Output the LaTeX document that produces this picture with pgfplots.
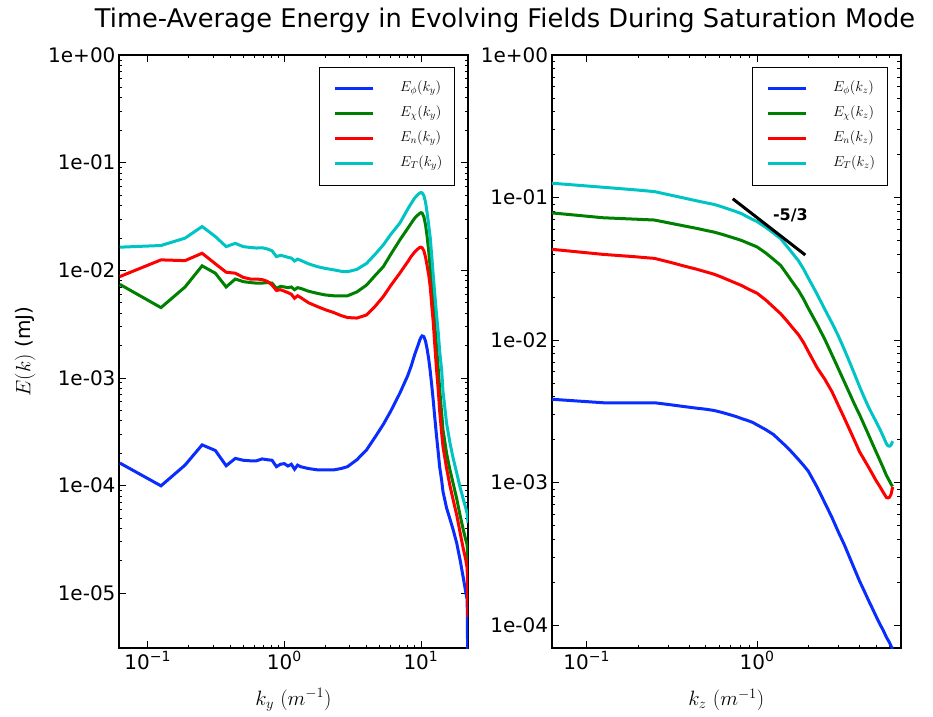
\documentclass[border=0pt]{standalone}
\usepackage{fontspec}
\setmainfont{DejaVu Sans}
\usepackage{pgfplots}
\usepackage{pgfplotstable}
\pgfplotsset{compat=1.18}

\definecolor{mblue}{RGB}{10,45,255}
\definecolor{mgreen}{RGB}{0,128,0}
\definecolor{mred}{RGB}{255,0,0}
\definecolor{mcyan}{RGB}{0,196,196}

\pgfplotstableread{
k phi chi n T
0.0625 1.62e-4 7.4e-3 8.75e-3 0.0164
0.125 9.95e-5 4.5e-3 0.0125 0.0170
0.1875 1.55e-4 7.0e-3 0.0123 0.0199
0.25 2.39e-4 0.011 0.0144 0.0255
0.3125 2.12e-4 9.4e-3 0.0115 0.0206
0.375 1.53e-4 7.0e-3 9.6e-3 0.0166
0.4375 1.79e-4 8.3e-3 9.4e-3 0.0178
0.5 1.72e-4 7.85e-3 8.6e-3 0.0166
0.5625 1.70e-4 7.7e-3 8.3e-3 0.0163
0.625 1.70e-4 7.6e-3 8.3e-3 0.0161
0.6875 1.77e-4 7.6e-3 8.2e-3 0.0162
0.75 1.74e-4 7.7e-3 7.9e-3 0.0158
0.8125 1.72e-4 7.6e-3 7.3e-3 0.0152
0.875 1.50e-4 6.8e-3 6.5e-3 0.0134
0.9375 1.58e-4 7.1e-3 6.6e-3 0.0138
1.0 1.60e-4 7.0e-3 6.4e-3 0.0135
1.0625 1.52e-4 6.9e-3 6.2e-3 0.0132
1.125 1.58e-4 7.0e-3 6.0e-3 0.0130
1.1875 1.42e-4 6.6e-3 5.5e-3 0.0122
1.25 1.55e-4 6.9e-3 5.8e-3 0.0127
1.3125 1.50e-4 6.8e-3 5.6e-3 0.0124
1.5 1.44e-4 6.4e-3 5.0e-3 0.0115
1.75 1.40e-4 6.1e-3 4.6e-3 0.0108
2.0 1.40e-4 5.9e-3 4.3e-3 0.0104
2.3 1.40e-4 5.8e-3 4.05e-3 0.0101
2.6 1.44e-4 5.8e-3 3.8e-3 0.0098
2.9 1.50e-4 5.8e-3 3.64e-3 0.0097
3.4 1.74e-4 6.3e-3 3.6e-3 0.0102
4.0 2.15e-4 7.3e-3 3.85e-3 0.0116
4.6 2.8e-4 8.9e-3 4.6e-3 0.0140
5.3 3.7e-4 0.0108 5.7e-3 0.0172
6.0 4.9e-4 0.0140 7.2e-3 0.0215
7.0 7.2e-4 0.0191 9.4e-3 0.0274
8.0 1.05e-3 0.0245 0.0120 0.0370
8.5 1.3e-3 0.0275 0.0135 0.0420
9.0 1.65e-3 0.0305 0.0148 0.0470
9.5 2.0e-3 0.0327 0.0158 0.0505
9.8 2.25e-3 0.0338 0.0163 0.0522
10.0 2.38e-3 0.0343 0.0164 0.0528
10.2 2.46e-3 0.0340 0.0162 0.0524
10.5 2.42e-3 0.0315 0.0152 0.0495
10.8 2.2e-3 0.0265 0.0133 0.0430
11.1 1.85e-3 0.0206 0.0110 0.0340
11.4 1.5e-3 0.0150 9.0e-3 0.0262
11.7 1.15e-3 0.0105 7.0e-3 0.0200
12.0 8.5e-4 7.2e-3 4.7e-3 0.0135
12.3 6.2e-4 4.9e-3 3.3e-3 9.0e-3
12.6 4.4e-4 3.2e-3 2.1e-3 6.2e-3
13.0 2.9e-4 1.95e-3 1.2e-3 3.9e-3
13.4 2.0e-4 1.19e-3 7.6e-4 2.6e-3
13.7 1.5e-4 8.0e-4 5.0e-4 1.8e-3
14.2 1.1e-4 4.6e-4 3.0e-4 1.15e-3
14.5 8.8e-5 3.3e-4 2.3e-4 7.5e-4
15.4 6.2e-5 2.0e-4 1.45e-4 3.8e-4
16.3 4.9e-5 1.4e-4 1.0e-4 2.5e-4
17.2 3.9e-5 1.05e-4 7.4e-5 1.8e-4
18.3 2.9e-5 7.5e-5 5.3e-5 1.3e-4
19.4 2.0e-5 5.2e-5 3.6e-5 9.5e-5
20.4 1.4e-5 3.9e-5 2.6e-5 7.5e-5
21.2 1.05e-5 3.2e-5 2.1e-5 6.3e-5
21.8 8.7e-6 2.8e-5 1.7e-5 5.5e-5
22.1 1e-6 1.6e-5 6e-6 4.5e-5
}\lefttab

\pgfplotstableread{
k phi chi n T
0.0625 3.84e-3 0.078 0.0433 0.126
0.125 3.63e-3 0.0721 0.0399 0.118
0.1875 3.63e-3 0.0706 0.0385 0.1135
0.25 3.63e-3 0.0695 0.0374 0.110
0.3125 3.51e-3 0.0659 0.035 0.1038
0.375 3.41e-3 0.0631 0.0330 0.099
0.4375 3.33e-3 0.0609 0.0315 0.095
0.5 3.27e-3 0.0588 0.0301 0.0919
0.5625 3.2e-3 0.0571 0.0289 0.0893
0.625 3.1e-3 0.0551 0.0275 0.0859
0.6875 3.0e-3 0.0532 0.0262 0.0826
0.75 2.91e-3 0.0515 0.0251 0.0798
0.8125 2.81e-3 0.0499 0.0241 0.0770
0.875 2.73e-3 0.0481 0.0230 0.0733
0.9375 2.65e-3 0.0465 0.0221 0.0703
1.0 2.54e-3 0.045 0.0213 0.0678
1.125 2.35e-3 0.0408 0.0191 0.0618
1.25 2.17e-3 0.0368 0.0170 0.0562
1.375 1.95e-3 0.0334 0.0153 0.0515
1.5 1.77e-3 0.0289 0.0136 0.0453
1.625 1.60e-3 0.0252 0.0121 0.0402
1.75 1.45e-3 0.0223 0.0109 0.036
1.875 1.32e-3 0.0194 9.6e-3 0.0315
2.0 1.2e-3 0.0167 8.3e-3 0.0272
2.25 9.3e-4 0.0129 6.4e-3 0.0210
2.5 7.2e-4 0.0101 5.3e-3 0.0164
2.75 5.7e-4 7.9e-3 4.35e-3 0.0132
3.0 4.5e-4 6.3e-3 3.48e-3 0.0107
3.25 3.67e-4 5.1e-3 2.84e-3 8.6e-3
3.5 2.97e-4 4.2e-3 2.34e-3 6.97e-3
3.75 2.44e-4 3.5e-3 1.95e-3 5.7e-3
4.0 2.03e-4 2.99e-3 1.64e-3 4.7e-3
4.25 1.74e-4 2.54e-3 1.45e-3 3.97e-3
4.5 1.50e-4 2.18e-3 1.29e-3 3.41e-3
4.75 1.31e-4 1.88e-3 1.15e-3 3.0e-3
5.0 1.15e-4 1.64e-3 1.03e-3 2.67e-3
5.25 1.02e-4 1.44e-3 9.4e-4 2.38e-3
5.5 9.2e-5 1.27e-3 8.55e-4 2.11e-3
5.75 8.2e-5 1.12e-3 7.85e-4 1.87e-3
5.875 7.85e-5 1.07e-3 7.8e-4 1.81e-3
6.0 7.5e-5 1.02e-3 7.9e-4 1.80e-3
6.125 7.1e-5 9.7e-4 8.3e-4 1.84e-3
6.25 6.8e-5 9.4e-4 9.3e-4 1.95e-3
}\righttab

\pgfplotsset{
  scale only axis, width=349pt, height=593pt,
  axis line style={line width=1.6pt},
  tick align=inside, major tick length=7pt, minor tick length=3.5pt,
  every tick/.style={black, line width=0.8pt},
  tick label style={font=\fontsize{20}{24}\selectfont},
  label style={font=\fontsize{20}{24}\selectfont},
  legend style={at={(1,1)}, anchor=north east, xshift=-13pt, yshift=-12pt,
    draw=black, line width=1.2pt, inner xsep=12pt, inner ysep=14pt, row sep=10.5pt,
    font=\fontsize{14}{16}\selectfont,
    nodes={inner sep=0pt, text height=10pt, text depth=4.5pt},
    cells={anchor=west}},
  legend image code/.code={\path (0pt,0pt); \draw[#1,line width=3pt] (2pt,0pt) -- (39.6pt,0pt);},
  every axis plot/.append style={line width=3pt},
}

\begin{document}
\begin{tikzpicture}
\path[use as bounding box] (0pt,0pt) rectangle (933pt,716pt);
\node[font=\fontsize{25.7}{30}\selectfont] at (505pt,696pt) {Time-Average Energy in Evolving Fields During Saturation Mode};

\begin{axis}[xmode=log, ymode=log, at={(119pt,68pt)}, anchor=south west,
  xmin=0.0616, xmax=22.1, ymin=3.1e-6, ymax=1,
  xtick={0.1,1,10},
  xticklabels={10\textsuperscript{−1},10\textsuperscript{0},10\textsuperscript{1}},
  ytick={1e-5,1e-4,1e-3,1e-2,1e-1,1},
  yticklabels={1e-05,1e-04,1e-03,1e-02,1e-01,1e+00},
  xlabel={$k_y\ (m^{-1})$},
  ylabel={$E(k)$ (mJ)},
  xlabel style={at={(axis description cs:0.5,-0.0877)}, anchor=center},
  ylabel style={at={(axis description cs:-0.269,0.5)}, anchor=center},
]
\addplot[mblue] table[x=k,y=phi] {\lefttab};
\addlegendentry{\hspace*{25.7pt}$E_\phi(k_y)$}
\addplot[mgreen] table[x=k,y=chi] {\lefttab};
\addlegendentry{\hspace*{25.7pt}$E_\chi(k_y)$}
\addplot[mred] table[x=k,y=n] {\lefttab};
\addlegendentry{\hspace*{25.7pt}$E_n(k_y)$}
\addplot[mcyan] table[x=k,y=T] {\lefttab};
\addlegendentry{\hspace*{25.7pt}$E_T(k_y)$}
\end{axis}

\begin{axis}[xmode=log, ymode=log, at={(551.7pt,68pt)}, anchor=south west,
  xmin=0.0623, xmax=6.97, ymin=6.9e-5, ymax=1,
  xtick={0.1,1,10},
  xticklabels={10\textsuperscript{−1},10\textsuperscript{0},10\textsuperscript{1}},
  ytick={1e-4,1e-3,1e-2,1e-1,1},
  yticklabels={1e-04,1e-03,1e-02,1e-01,1e+00},
  xlabel={$k_z\ (m^{-1})$},
  xlabel style={at={(axis description cs:0.5,-0.0877)}, anchor=center},
]
\addplot[mblue] table[x=k,y=phi] {\righttab};
\addlegendentry{\hspace*{25.7pt}$E_\phi(k_z)$}
\addplot[mgreen] table[x=k,y=chi] {\righttab};
\addlegendentry{\hspace*{25.7pt}$E_\chi(k_z)$}
\addplot[mred] table[x=k,y=n] {\righttab};
\addlegendentry{\hspace*{25.7pt}$E_n(k_z)$}
\addplot[mcyan] table[x=k,y=T] {\righttab};
\addlegendentry{\hspace*{25.7pt}$E_T(k_z)$}
\addplot[black, line width=3pt, forget plot] coordinates {(0.72,0.098) (1.92,0.0395)};
\node[font=\fontsize{16}{19}\selectfont\bfseries] at (axis cs:1.57,0.0754) {-5/3};
\end{axis}
\end{tikzpicture}
\end{document}
